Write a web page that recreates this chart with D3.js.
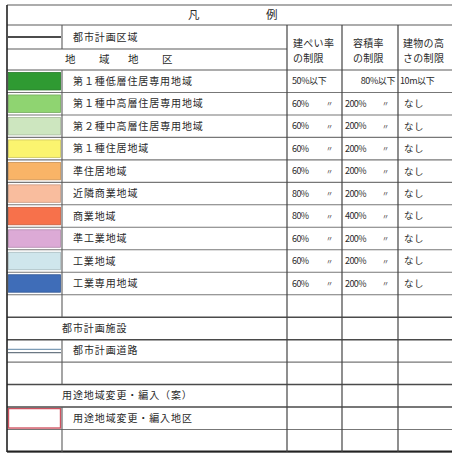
<!DOCTYPE html>
<html><head><meta charset="utf-8">
<script src="https://cdn.jsdelivr.net/npm/d3@7"></script>
<style>html,body{margin:0;padding:0;background:#fff}svg{display:block}</style>
</head><body>
<svg id="c" width="452" height="454"></svg>
<script>
// ---- data ----
const title = ["凡", "例"];
const colHeaders = [["建ぺい率", "の制限"], ["容積率", "の制限"], ["建物の高", "さの制限"]];
const zones = ["第１種低層住居専用地域", "第１種中高層住居専用地域", "第２種中高層住居専用地域", "第１種住居地域", "準住居地域", "近隣商業地域", "商業地域", "準工業地域", "工業地域", "工業専用地域"];
const zoneColors = ["#2f9a32", "#8fd471", "#cde6bf", "#fbf46f", "#f9b467", "#f9bd9e", "#f7714b", "#dcaad6", "#cfe6ec", "#3f6db8"];
const coverage = ["50%以下", "60%", "60%", "60%", "60%", "80%", "80%", "60%", "60%", "60%"];
const floorArea = ["80%以下", "200%", "200%", "200%", "200%", "200%", "400%", "200%", "200%", "200%"];
const heightLimit = ["10m以下", "なし", "なし", "なし", "なし", "なし", "なし", "なし", "なし", "なし"];
const ditto = "〃";
const cityArea = "都市計画区域";
const districtHead = ["地", "域", "地", "区"];
const facilitiesHead = "都市計画施設";
const roadLabel = "都市計画道路";
const changeHead = "用途地域変更・編入（案）";
const changeLabel = "用途地域変更・編入地区";

// ---- layout ----
const svg = d3.select("#c");
const colEdges = [7, 62, 287, 342, 398, 452];
const headY = [5, 25, 49, 70];
const nBody = 17;
const y = d3.scaleLinear().domain([0, nBody]).range([70, 452]);
const font = "'Noto Sans CJK JP','Noto Sans',sans-serif";
const lineCol = "#5a5a5a";
const txtCol = "#2a2a2a";
const charW = 10.9;

const g = svg.append("g");

// swatches
zones.forEach((z, i) => {
  g.append("rect")
    .attr("x", colEdges[0] + 1.5).attr("y", y(i) + 2.5)
    .attr("width", colEdges[1] - colEdges[0] - 3).attr("height", y(i + 1) - y(i) - 5)
    .attr("fill", zoneColors[i]).attr("stroke", d3.color(zoneColors[i]).darker(0.6)).attr("stroke-width", 0.8);
});

// city area line symbol
g.append("line").attr("x1", colEdges[0] + 1).attr("x2", colEdges[1] - 1)
  .attr("y1", (headY[1] + headY[2]) / 2).attr("y2", (headY[1] + headY[2]) / 2)
  .attr("stroke", "#111").attr("stroke-width", 1.5);

// road symbol (double line)
const roadRow = 12;
const ry = (y(roadRow) + y(roadRow + 1)) / 2;
g.append("line").attr("x1", colEdges[0] + 1).attr("x2", colEdges[1] - 1).attr("y1", ry - 1.5).attr("y2", ry - 1.5)
  .attr("stroke", "#7d9cb6").attr("stroke-width", 1.2);
g.append("line").attr("x1", colEdges[0] + 1).attr("x2", colEdges[1] - 1).attr("y1", ry + 1.8).attr("y2", ry + 1.8)
  .attr("stroke", "#6b7884").attr("stroke-width", 1.2);

// change area symbol
const chRow = 15;
g.append("rect").attr("x", colEdges[0] + 1.5).attr("y", y(chRow) + 1.5)
  .attr("width", colEdges[1] - colEdges[0] - 3).attr("height", y(chRow + 1) - y(chRow) - 3)
  .attr("fill", "none").attr("stroke", "#cf5260").attr("stroke-width", 1.4);

// ---- lines ----
function hline(yy, x1, x2, w = 1.1, c = lineCol) {
  g.append("line").attr("x1", x1).attr("x2", x2).attr("y1", yy).attr("y2", yy).attr("stroke", c).attr("stroke-width", w);
}
function vline(xx, y1, y2, w = 1.1, c = lineCol) {
  g.append("line").attr("x1", xx).attr("x2", xx).attr("y1", y1).attr("y2", y2).attr("stroke", c).attr("stroke-width", w);
}
const L = colEdges[0], R = colEdges[5];
hline(headY[0], L, R, 1.2);
hline(headY[1], L, R, 1.2);
hline(headY[2], L, colEdges[2], 1.2);
hline(headY[3], L, R, 1.2);
for (let i = 1; i <= nBody; i++) {
  const heavy = (i === 11 || i === 12 || i === 14 || i === 15);
  hline(y(i), L, R, heavy ? 1.5 : 1.1, heavy ? "#4a4a4a" : "#777");
}
hline(y(nBody) - 0.5, L, R, 2, "#222");
vline(L, headY[0], 452, 1.6, "#222");
vline(colEdges[1], headY[1], headY[2]);
vline(colEdges[1], y(0), y(11));
vline(colEdges[1], y(12), y(14));
vline(colEdges[1], y(15), y(nBody));
[2, 3, 4].forEach(k => vline(colEdges[k], headY[1], 452, 1.2, "#444"));

// ---- text ----
function txt(s, x, yy, size = 10.5, anchor = "start", ls = 0.5) {
  return g.append("text").attr("x", x).attr("y", yy).attr("dy", "0.36em")
    .attr("font-family", font).attr("font-size", size).attr("fill", txtCol)
    .attr("letter-spacing", ls).attr("text-anchor", anchor).text(s);
}
function label(s, x, yy) {
  return txt(s, x, yy, 10, "start", 0)
    .attr("textLength", s.length * charW - 1).attr("lengthAdjust", "spacing");
}
txt(title[0], 188, 15, 11.5, "start", 0);
txt(title[1], 266, 15, 11.5, "start", 0);

const colTextX = [293, 353, 403];
colHeaders.forEach((h, k) => {
  txt(h[0], colTextX[k], 43, 10, "start", 0.3);
  txt(h[1], colTextX[k], 58, 10, "start", 0.3);
});

label(cityArea, 73, (headY[1] + headY[2]) / 2);
const dX = [65, 99, 128, 162];
districtHead.forEach((c, i) => txt(c, dX[i], (headY[2] + headY[3]) / 2, 10.5, "start", 0));

zones.forEach((z, i) => {
  const cy = (y(i) + y(i + 1)) / 2;
  label(z, 73, cy);
  if (coverage[i].includes("以下")) {
    txt(coverage[i], 292, cy, 9, "start", -0.4);
    txt(floorArea[i], 395, cy, 9, "end", -0.4);
    txt(heightLimit[i], 400, cy, 9, "start", -0.4);
  } else {
    txt(coverage[i], 292, cy, 9, "start", -0.6);
    txt(ditto, 326, cy, 7, "start", 0);
    txt(floorArea[i], 345, cy, 9, "start", -0.6);
    txt(ditto, 382, cy, 7, "start", 0);
    txt(heightLimit[i], 404, cy, 9.5, "start", 0.5);
  }
});

label(facilitiesHead, 62, (y(11) + y(12)) / 2);
label(roadLabel, 73, (y(12) + y(13)) / 2);
label(changeHead, 62, (y(14) + y(15)) / 2);
label(changeLabel, 73, (y(15) + y(16)) / 2);
</script>
</body></html>
